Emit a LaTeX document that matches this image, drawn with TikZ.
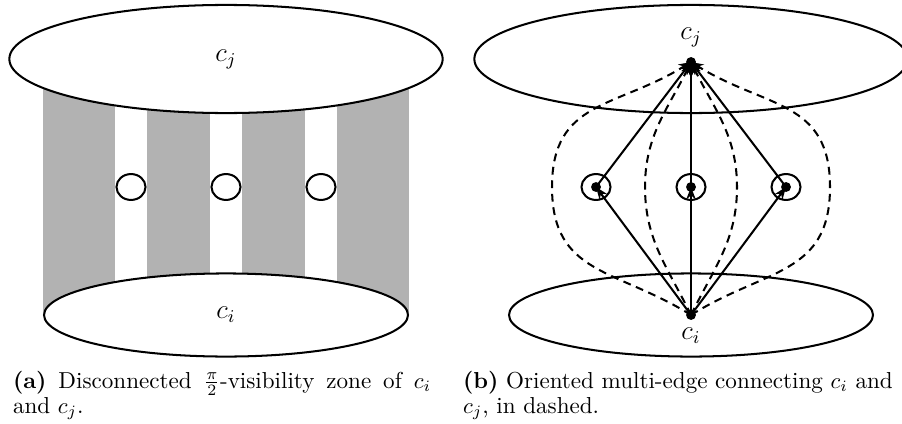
\documentclass[tikz,border=0pt]{standalone}
\usetikzlibrary{arrows.meta,shapes.geometric}
\begin{document}
\begin{tikzpicture}[x=0.444pt,y=0.444pt,line width=0.9pt,
  bigell/.style={ellipse,draw,fill=white,inner sep=0pt,minimum width=192.4pt,minimum height=48pt,font=\large},
  lowell/.style={ellipse,draw,fill=white,inner sep=0pt,minimum width=161.6pt,minimum height=36.9pt,font=\large},
  ring/.style={ellipse,draw,inner sep=0pt,minimum width=12.9pt,minimum height=11.5pt},
  pt/.style={circle,fill=black,inner sep=0pt,minimum size=4.4pt},
  arr/.style={-{Stealth[length=5.5pt,width=4.2pt]}},
  dsh/.style={dash pattern=on 3.5pt off 2.5pt},
  lab/.style={font=\large,inner sep=0pt},
  captxt/.style={font=\fontsize{10.25}{11.1}\selectfont,inner sep=0pt,anchor=base west}]
\useasboundingbox (0,0) rectangle (902,-423);
% ---------- (a) ----------
\fill[black!30] (43,-59) rectangle (115,-315);
\fill[black!30] (147,-59) rectangle (210,-315);
\fill[black!30] (242,-59) rectangle (305,-315);
\fill[black!30] (337,-59) rectangle (409,-315);
\node[bigell] (Aj) at (226,-59) {$c_j$};
\node[lowell] (Ai) at (226,-315) {$c_i$};
\node[ring] (A1) at (131,-187) {};
\node[ring] (A2) at (226,-187) {};
\node[ring] (A3) at (321,-187) {};
% ---------- (b) ----------
\node[bigell] (Bj) at (691,-59) {};
\node[lowell] (Bi) at (691,-315) {};
\node[pt] (pj) at (691,-62) {};
\node[pt] (pi) at (691,-315) {};
\node[lab] (lj) at (691,-37) {$c_j$};
\node[lab] (li) at (691,-336) {$c_i$};
\node[pt] (m1) at (596,-187) {};
\node[pt] (m2) at (691,-187) {};
\node[pt] (m3) at (786,-187) {};
\node[ring] (r1) at (596,-187) {};
\node[ring] (r2) at (691,-187) {};
\node[ring] (r3) at (786,-187) {};
\coordinate (d1) at (552,-187);
\coordinate (d2) at (645,-187);
\coordinate (d3) at (737,-187);
\coordinate (d4) at (830,-187);
\foreach \m in {m1,m2,m3}{
  \draw[arr] (pi.center) -- (\m.center);
  \draw[arr] (\m.center) -- (pj.center);
}
\draw[arr,dsh] (pi.center) to[out=148,in=-90,looseness=1.2] (d1) to[out=90,in=-148,looseness=1.2] (pj.center);
\draw[arr,dsh] (pi.center) to[out=116,in=-90] (d2) to[out=90,in=-116] (pj.center);
\draw[arr,dsh] (pi.center) to[out=64,in=-90] (d3) to[out=90,in=-64] (pj.center);
\draw[arr,dsh] (pi.center) to[out=32,in=-90,looseness=1.2] (d4) to[out=90,in=-32,looseness=1.2] (pj.center);
% ---------- captions ----------
\node[captxt,text width=185.6pt,align=justify] (capa) at (12,-388) {\textbf{(a)} Disconnected $\frac{\pi}{2}$-visibility zone of $c_i$\linebreak and $c_j$.};
\node[captxt,text width=200pt,align=left] (capb) at (462,-388) {\textbf{(b)} Oriented multi-edge connecting $c_i$ and\\ $c_j$, in dashed.};
\end{tikzpicture}
\end{document}
